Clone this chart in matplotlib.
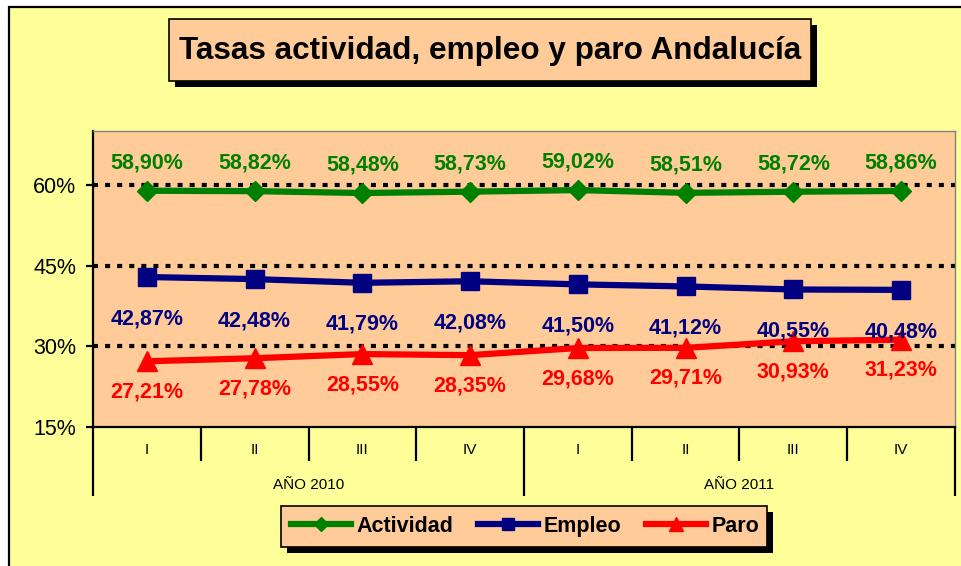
import matplotlib
matplotlib.use("Agg")
import matplotlib.pyplot as plt
import matplotlib.transforms as mtransforms
from matplotlib.patches import Rectangle
from matplotlib.lines import Line2D

plt.rcParams['font.family'] = ['Liberation Sans', 'DejaVu Sans']

# ---- data ----
quarters = ["I", "II", "III", "IV", "I", "II", "III", "IV"]
years = ["AÑO 2010", "AÑO 2011"]
actividad = [58.90, 58.82, 58.48, 58.73, 59.02, 58.51, 58.72, 58.86]
empleo = [42.87, 42.48, 41.79, 42.08, 41.50, 41.12, 40.55, 40.48]
paro = [27.21, 27.78, 28.55, 28.35, 29.68, 29.71, 30.93, 31.23]
yticks = [15, 30, 45, 60]
title = "Tasas actividad, empleo y paro Andalucía"

W, H = 962, 566
fig = plt.figure(figsize=(W / 100, H / 100), dpi=100)
fig.patch.set_facecolor("white")


def frect(x0, y0, x1, y1, **kw):
    r = Rectangle((x0 / W, 1 - y1 / H), (x1 - x0) / W, (y1 - y0) / H,
                  transform=fig.transFigure, **kw)
    fig.add_artist(r)
    return r


# outer chart area
frect(9, 7, 975, 580, facecolor="#FFFF99", edgecolor="black", lw=1.6, zorder=0)

# title box with shadow
frect(175, 25, 817, 87, facecolor="black", edgecolor="none", zorder=1)
frect(169, 19, 811, 81, facecolor="#FFCC99", edgecolor="black", lw=1.2, zorder=2)
fig.text(490 / W, 1 - 51 / H, title, ha="center", va="center",
         fontsize=22.7, fontweight="bold", color="black", zorder=3)

# legend box with shadow
frect(287, 512, 773, 553, facecolor="black", edgecolor="none", zorder=1)
frect(281, 506, 767, 547, facecolor="#FFCC99", edgecolor="black", lw=1.2, zorder=2)

# ---- axes ----
ax = fig.add_axes([93 / W, 1 - 427 / H, 862 / W, 296 / H])
ax.set_facecolor("#FFCC99")
ax.set_zorder(2)
n = len(quarters)
x = list(range(n))
ax.set_xlim(-0.5, n - 0.5)
ax.set_ylim(15, 70)

for s in ["top", "right"]:
    ax.spines[s].set_color("#808080")
    ax.spines[s].set_linewidth(1.0)
for s in ["left", "bottom"]:
    ax.spines[s].set_color("black")
    ax.spines[s].set_linewidth(1.6)

ax.set_yticks(yticks)
ax.set_yticklabels([f"{v}%" for v in yticks])
ax.tick_params(axis="y", direction="out", length=5, width=1.6, pad=7,
               labelsize=15.5, colors="black")
ax.set_xticks([])

for v in yticks[1:]:
    ax.axhline(v, color="black", lw=3, linestyle=(0, (1.2, 1.7)), zorder=1)

series = [
    (actividad, "Actividad", "#008000", "D", 10.5, 20),
    (empleo, "Empleo", "#000080", "s", 13, -30),
    (paro, "Paro", "#FF0000", "^", 14, -22),
]
handles = []
for vals, name, col, mk, ms, off in series:
    ln, = ax.plot(x, vals, color=col, lw=4.5, marker=mk, markersize=ms,
                  markerfacecolor=col, markeredgecolor=col, mew=1,
                  solid_capstyle="butt", zorder=3, clip_on=False, label=name)
    handles.append(ln)
    for xi, v in zip(x, vals):
        ax.annotate(f"{v:.2f}%".replace(".", ","), (xi, v), xytext=(0, off),
                    textcoords="offset points", ha="center", va="center",
                    fontsize=15.5, fontweight="bold", color=col, zorder=4)

# category axis (two levels)
trans = mtransforms.blended_transform_factory(ax.transData, ax.transAxes)
for i in range(n + 1):
    b = i - 0.5
    is_year = (i % 4 == 0)
    ax.plot([b, b], [0, -0.233 if is_year else -0.115], transform=trans,
            color="black", lw=1.6, clip_on=False, solid_capstyle="butt")
for i, q in enumerate(quarters):
    ax.text(i, -0.078, q, transform=trans, ha="center", va="center",
            fontsize=11, color="black")
for j, yl in enumerate(years):
    ax.text(j * 4 + 1.5, -0.196, yl, transform=trans, ha="center",
            va="center", fontsize=11, color="black")

# legend
leg_handles = [Line2D([], [], color=h.get_color(), lw=4.5, marker=h.get_marker(),
                      markersize=h.get_markersize() * 0.7,
                      markerfacecolor=h.get_color(), markeredgecolor=h.get_color())
               for h in handles]
leg = fig.legend(leg_handles, [h.get_label() for h in handles], loc="center",
                 bbox_to_anchor=(525 / W, 1 - 526.5 / H), ncol=3, frameon=False,
                 handlelength=2.8, handletextpad=0.25, columnspacing=1.15,
                 prop={"size": 15.5, "weight": "bold"})
leg.set_zorder(5)

fig.savefig("out.png", dpi=100, facecolor=fig.get_facecolor())
